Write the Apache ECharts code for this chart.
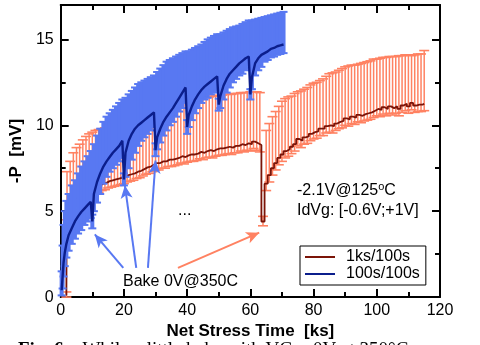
<!DOCTYPE html>
<html>
<head>
<meta charset="utf-8">
<script src="https://cdn.jsdelivr.net/npm/echarts@6/dist/echarts.min.js"></script>
<style>
  html, body { margin: 0; padding: 0; background: #fff; }
  #chart { width: 480px; height: 345px; }
</style>
</head>
<body>
<div id="chart"></div>
<script>
// 100s/100s stress, bakes at 10,20,...,60 ks
const blueT = [0.3, 0.6, 0.9, 1.3, 1.8, 2.5, 3.5, 4.5, 5.5, 6.5, 7.5, 8.5, 9.5, 10,
  10.5, 11.5, 12.5, 13.5, 14.5, 15.5, 16.5, 17.5, 18.5, 19.5, 20,
  20.5, 21.5, 22.5, 23.5, 24.5, 25.5, 26.5, 27.5, 28.5, 29.5, 30,
  30.5, 31.5, 32.5, 33.5, 34.5, 35.5, 36.5, 37.5, 38.5, 39.5, 40,
  40.5, 41.5, 42.5, 43.5, 44.5, 45.5, 46.5, 47.5, 48.5, 49.5, 50,
  50.5, 51.5, 52.5, 53.5, 54.5, 55.5, 56.5, 57.5, 58.5, 59.5, 60,
  60.5, 61.5, 62.5, 63.5, 64.5, 65.5, 66.5, 67.5, 68.5, 69.5, 70.5]
const blueV = [0.4, 1.2, 2.0, 2.6, 3.1, 3.6, 4.0, 4.4, 4.7, 4.95, 5.15, 5.35, 5.55, 4.4,
  6.0, 6.7, 7.2, 7.6, 7.9, 8.15, 8.4, 8.6, 8.8, 9.1, 6.85,
  8.4, 9.1, 9.5, 9.8, 10.0, 10.15, 10.3, 10.45, 10.6, 10.75, 8.55,
  9.3, 9.8, 10.2, 10.5, 10.75, 11.0, 11.3, 11.6, 11.9, 12.2, 9.9,
  10.6, 11.1, 11.5, 11.8, 12.05, 12.25, 12.4, 12.55, 12.7, 12.85, 11.2,
  11.7, 12.3, 12.7, 13.0, 13.2, 13.4, 13.6, 13.75, 13.9, 14.0, 11.8,
  12.8, 13.6, 13.9, 14.1, 14.2, 14.3, 14.45, 14.5, 14.6, 14.65, 14.7]
const blueHi = [1.5, 3.0, 4.2, 5.0, 5.6, 6.0, 6.5, 6.8, 7.2, 7.6, 7.9, 8.2, 8.5, 4.8,
  8.9, 9.4, 9.8, 10.2, 10.5, 10.7, 10.9, 11.1, 11.3, 11.5, 7.2,
  11.6, 11.8, 12.0, 12.2, 12.4, 12.5, 12.6, 12.7, 12.8, 12.9, 8.95,
  13.1, 13.3, 13.5, 13.7, 13.8, 13.9, 14.0, 14.1, 14.2, 14.3, 10.3,
  14.3, 14.4, 14.5, 14.6, 14.7, 14.85, 15.0, 15.1, 15.2, 15.3, 11.55,
  15.3, 15.4, 15.5, 15.6, 15.7, 15.75, 15.8, 15.9, 16.0, 16.1, 12.1,
  16.1, 16.15, 16.2, 16.25, 16.3, 16.35, 16.4, 16.45, 16.5, 16.55, 16.6]
const blueLo = [0.1, 0.5, 1.2, 1.8, 2.3, 2.7, 3.1, 3.4, 3.7, 3.9, 4.2, 4.4, 4.6, 4.0,
  5.0, 5.5, 6.0, 6.6, 7.0, 7.3, 7.5, 7.7, 7.9, 8.1, 6.5,
  7.0, 7.5, 8.0, 8.4, 8.8, 9.1, 9.3, 9.5, 9.7, 9.9, 8.2,
  8.6, 9.0, 9.4, 9.7, 10.0, 10.2, 10.5, 10.8, 11.0, 11.3, 9.5,
  9.9, 10.3, 10.7, 11.0, 11.3, 11.5, 11.6, 11.8, 11.9, 12.0, 10.85,
  11.0, 11.5, 11.9, 12.2, 12.5, 12.7, 12.9, 13.0, 13.2, 13.3, 11.5,
  12.1, 12.9, 13.2, 13.4, 13.7, 13.8, 13.95, 14.0, 14.1, 14.15, 14.2]

// 1ks/100s stress, one bake at ~64 ks
const redT = [1.8, 2, 3, 4, 5, 6, 7, 8, 9, 10, 11, 12, 13, 14, 15, 16, 17, 18, 19, 20,
  21, 22, 23, 24, 25, 26, 27, 28, 29, 30, 31, 32, 33, 34, 35, 36, 37, 38, 39, 40,
  41, 42, 43, 44, 45, 46, 47, 48, 49, 50, 51, 52, 53, 54, 55, 56, 57, 58, 59, 60,
  61, 62, 63, 64, 65, 66, 67, 68, 69, 70, 71, 72, 73, 74, 75, 76, 77, 78, 79, 80,
  81, 82, 83, 84, 85, 86, 87, 88, 89, 90, 91, 92, 93, 94, 95, 96, 97, 98, 99, 100,
  101, 102, 103, 104, 105, 106, 107, 108, 109, 110, 111, 112, 113, 114, 115]
const redV = [0.1, 5.0, 5.3, 5.55, 5.75, 5.9, 6.05, 6.15, 6.25, 6.35, 6.45, 6.5, 6.6, 6.65, 6.75, 6.8, 6.85, 6.9, 6.95, 7.0,
  7.1, 7.15, 7.2, 7.3, 7.35, 7.45, 7.55, 7.6, 7.7, 7.8, 7.8, 7.9, 7.9, 8.0, 8.0, 8.05, 8.1, 8.2, 8.15, 8.25,
  8.3, 8.3, 8.35, 8.45, 8.4, 8.5, 8.55, 8.5, 8.6, 8.65, 8.65, 8.7, 8.75, 8.7, 8.8, 8.8, 8.9, 8.85, 8.95, 8.9,
  9.05, 8.95, 8.85, 4.4, 6.6, 7.1, 7.5, 7.8, 8.1, 8.3, 8.5, 8.6, 8.75, 8.9, 9.2, 9.1, 9.3, 9.35, 9.5, 9.6,
  9.65, 9.8, 9.8, 9.95, 10.0, 9.95, 10.1, 10.2, 10.25, 10.4, 10.35, 10.5, 10.45, 10.6, 10.55, 10.65, 10.7, 10.75, 10.85, 10.95,
  10.9, 11.05, 10.95, 11.1, 11.0, 11.1, 10.95, 11.15, 11.25, 11.1, 11.3, 11.15, 11.2, 11.2, 11.25]
const redHi = [0.3, 7.3, 7.9, 8.4, 8.7, 8.9, 9.15, 9.35, 9.5, 9.6, 9.7, 9.75, 9.8, 9.85, 9.9, 9.95, 10.0, 10.05, 10.1, 10.15,
  10.2, 10.3, 10.35, 10.4, 10.5, 10.55, 10.6, 10.7, 10.8, 10.85, 10.9, 11.0, 11.05, 11.1, 11.15, 11.2, 11.3, 11.35, 11.4, 11.45,
  11.5, 11.5, 11.55, 11.6, 11.6, 11.65, 11.65, 11.7, 11.7, 11.75, 11.75, 11.8, 11.8, 11.8, 11.85, 11.85, 11.9, 11.9, 11.9, 11.95,
  11.95, 11.95, 11.9, 4.7, 9.7, 10.1, 10.5, 10.8, 11.1, 11.4, 11.55, 11.65, 11.7, 11.85, 11.95, 12.0, 12.1, 12.2, 12.35, 12.45,
  12.5, 12.6, 12.7, 12.85, 13.0, 13.05, 13.1, 13.2, 13.3, 13.4, 13.45, 13.5, 13.5, 13.55, 13.6, 13.65, 13.7, 13.75, 13.85, 13.85,
  13.9, 13.95, 13.95, 14.0, 14.0, 14.0, 14.05, 14.05, 14.1, 14.1, 14.05, 14.1, 14.15, 14.15, 14.35]
const redLo = [0.0, 4.5, 4.8, 5.1, 5.3, 5.5, 5.6, 5.75, 5.85, 5.95, 6.05, 6.1, 6.2, 6.25, 6.35, 6.4, 6.45, 6.5, 6.55, 6.6,
  6.7, 6.75, 6.8, 6.9, 6.95, 7.05, 7.15, 7.2, 7.3, 7.4, 7.4, 7.5, 7.5, 7.6, 7.6, 7.65, 7.7, 7.8, 7.75, 7.85,
  7.9, 7.9, 7.95, 8.05, 8.0, 8.1, 8.15, 8.1, 8.2, 8.25, 8.25, 8.3, 8.35, 8.3, 8.4, 8.4, 8.5, 8.45, 8.55, 8.5,
  8.65, 8.55, 8.45, 4.15, 6.2, 6.7, 7.1, 7.4, 7.7, 7.9, 8.1, 8.2, 8.35, 8.5, 8.8, 8.7, 8.9, 8.95, 9.1, 9.2,
  9.25, 9.4, 9.4, 9.55, 9.6, 9.55, 9.7, 9.8, 9.85, 10.0, 9.95, 10.1, 10.05, 10.2, 10.15, 10.25, 10.3, 10.35, 10.45, 10.55,
  10.5, 10.65, 10.55, 10.7, 10.6, 10.7, 10.55, 10.75, 10.85, 10.7, 10.9, 10.75, 10.8, 10.8, 10.85]

// arrows from the "Bake" label to the bake points, [from, to] in data units
const blueArrows = [[[19.8, 1.7], [10.8, 3.65]], [[23.9, 1.7], [20.3, 6.5]], [[27.6, 1.7], [30.0, 7.95]]]
const redArrows = [[[37.1, 1.7], [62.8, 3.75]]]

const FONT = "'Liberation Sans', Arial, sans-serif"
const SERIF = "'Liberation Serif', 'Times New Roman', serif"
const BLUE = '#5878f2'
const SALMON = '#ff8262'

function errBars(color, stemW, capW, capLineW) {
  return function (params, api) {
    const x = api.value(0)
    const top = api.coord([x, api.value(2)])
    const bot = api.coord([x, api.value(1)])
    const cap = (p) => ({
      type: 'line',
      shape: { x1: p[0] - capW / 2, y1: p[1], x2: p[0] + capW / 2, y2: p[1] },
      style: { stroke: color, lineWidth: capLineW }
    })
    return {
      type: 'group',
      children: [
        { type: 'line', shape: { x1: top[0], y1: top[1], x2: bot[0], y2: bot[1] }, style: { stroke: color, lineWidth: stemW } },
        cap(top),
        cap(bot)
      ]
    }
  }
}

const chart = echarts.init(document.getElementById('chart'), null, { renderer: 'canvas' })

const axisCommon = {
  axisLine: { onZero: false, lineStyle: { color: '#000', width: 2 } },
  axisTick: { inside: true, length: 8, lineStyle: { color: '#000', width: 2 } },
  minorTick: { show: true, splitNumber: 2, length: 5, lineStyle: { color: '#000', width: 2 } },
  splitLine: { show: false }
}

const arrowLine = (list, color) => list.map(([a, b]) => [
  { coord: a, symbol: 'none', lineStyle: { color: color, width: 2, type: 'solid' } },
  { coord: b, symbol: 'arrow', symbolSize: [9, 13], itemStyle: { color: color } }
])

chart.setOption({
  animation: false,
  backgroundColor: '#fff',
  grid: { left: 59, right: 40, top: 5, bottom: 45.5 },
  xAxis: [
    Object.assign({}, axisCommon, {
      type: 'value', min: 0, max: 120, interval: 20,
      name: 'Net Stress Time  [ks]', nameLocation: 'middle', nameGap: 23,
      nameTextStyle: { fontFamily: FONT, fontSize: 17, fontWeight: 'bold', color: '#000' },
      axisLabel: { fontFamily: FONT, fontSize: 16, color: '#000', margin: 5 }
    }),
    Object.assign({}, axisCommon, {
      type: 'value', min: 0, max: 120, interval: 20, position: 'top',
      axisLabel: { show: false }
    })
  ],
  yAxis: [
    Object.assign({}, axisCommon, {
      type: 'value', min: 0, max: 17, interval: 5,
      name: '-P  [mV]', nameLocation: 'middle', nameGap: 25, nameRotate: 90,
      nameTextStyle: { fontFamily: FONT, fontSize: 17, fontWeight: 'bold', color: '#000' },
      axisLabel: { fontFamily: FONT, fontSize: 16, color: '#000', margin: 7, showMaxLabel: false }
    }),
    Object.assign({}, axisCommon, {
      type: 'value', min: 0, max: 17, interval: 5, position: 'right',
      axisLabel: { show: false }
    })
  ],
  legend: {
    left: 300, top: 246, orient: 'vertical',
    data: ['1ks/100s', '100s/100s'],
    icon: 'rect', itemWidth: 30, itemHeight: 2, itemGap: 1,
    padding: [3, 6, 3, 5],
    borderColor: '#000', borderWidth: 1, borderRadius: 0,
    textStyle: { fontFamily: FONT, fontSize: 16, color: '#000', padding: [0, 0, 0, 6] }
  },
  series: [
    {
      name: 'red err', type: 'custom', z: 2,
      renderItem: errBars(SALMON, 1.5, 10, 1.6),
      encode: { x: 0, y: [1, 2] },
      data: redT.map((t, i) => [t, redLo[i], redHi[i]])
    },
    {
      name: '1ks/100s', type: 'line', z: 3, step: 'middle',
      showSymbol: false, color: '#7b1408',
      lineStyle: { width: 1.8, color: '#7b1408' },
      data: redT.map((t, i) => [t, redV[i]])
    },
    {
      name: 'blue err', type: 'custom', z: 4,
      renderItem: errBars(BLUE, 4, 8, 2),
      encode: { x: 0, y: [1, 2] },
      data: blueT.map((t, i) => [t, blueLo[i], blueHi[i]])
    },
    {
      name: '100s/100s', type: 'line', z: 5,
      showSymbol: false, color: '#0b1e8c',
      lineStyle: { width: 2.4, color: '#0b1e8c' },
      data: blueT.map((t, i) => [t, blueV[i]]),
      markLine: {
        silent: true, animation: false,
        symbol: ['none', 'arrow'], symbolSize: 12,
        label: { show: false },
        data: arrowLine(blueArrows, BLUE).concat(arrowLine(redArrows, SALMON))
      }
    }
  ],
  graphic: [
    {
      type: 'text', left: 297, top: 181, z: 10,
      style: {
        text: '-2.1V@125{sup|o}C', fontFamily: FONT, fontSize: 16, fill: '#000',
        rich: { sup: { fontSize: 11, verticalAlign: 'top', padding: [0, 0, 8, 0], fontFamily: FONT } }
      }
    },
    { type: 'text', left: 297, top: 203, z: 10, style: { text: 'IdVg: [-0.6V;+1V]', fontFamily: FONT, fontSize: 16, fill: '#000' } },
    { type: 'text', left: 178, top: 203, z: 10, style: { text: '...', fontFamily: FONT, fontSize: 16, fill: '#000' } },
    { type: 'text', left: 123, top: 274, z: 10, style: { text: 'Bake 0V@350C', fontFamily: FONT, fontSize: 16, fill: '#000' } },
    {
      type: 'text', left: 18, top: 341, z: 10,
      style: {
        text: '{b|Fig. 6.}   While a little bake with VG = 0V at 350\u00B0C',
        fontFamily: SERIF, fontSize: 19, fill: '#000',
        rich: { b: { fontWeight: 'bold', fontFamily: SERIF, fontSize: 19 } }
      }
    }
  ]
})
</script>
</body>
</html>
